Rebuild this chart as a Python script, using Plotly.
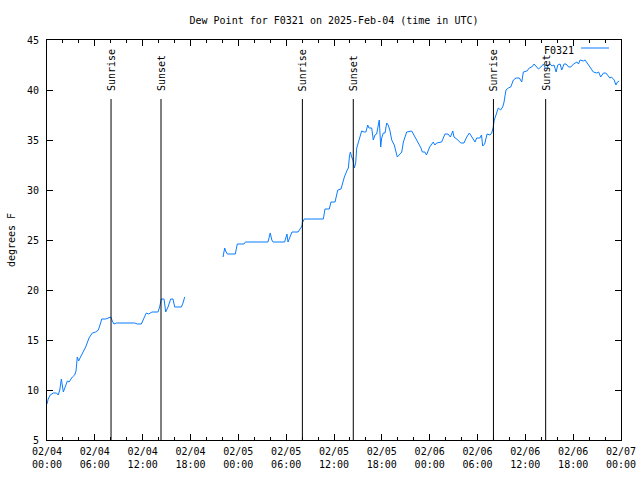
import pandas as pd
import plotly.graph_objects as go

# ---- data (hours after 2025-02-04 00:00 UTC, dew point in F) ----
hours = [0.0, 0.15, 0.4, 0.8, 1.2, 1.4, 1.6, 1.8, 2.05, 2.26, 2.55, 2.76, 3.18, 3.47, 3.64, 3.8, 3.97,
         4.14, 4.43, 4.85, 5.27, 5.68, 6.1, 6.44, 6.73, 6.86, 7.36, 7.78, 7.99, 8.2, 8.4, 8.7, 11.0,
         11.33, 11.83, 12.17, 12.46, 12.75, 13.17, 13.92, 14.13, 14.34, 14.68, 14.89, 15.18, 15.52,
         15.8, 16.02, 16.85, 17.06, 17.27,
         19.5,
         22.08, 22.29, 22.41, 22.62, 23.62, 23.87, 24.7, 24.88, 27.72, 28.0, 28.2, 28.35, 29.81, 30.0,
         30.1, 30.23, 30.44, 30.73, 31.49, 31.7, 31.99, 32.03, 32.27, 34.66, 34.87, 35.41, 35.62,
         36.13, 36.34, 36.47, 36.88, 37.05, 37.3, 37.6, 37.8, 37.93, 38.05, 38.22, 38.38, 38.55,
         38.72, 38.85, 39.05, 39.26, 39.47, 39.8, 40.0, 40.23, 40.39, 40.73, 40.93, 41.14, 41.35,
         41.56, 41.68, 41.86, 41.98, 42.19, 42.4, 42.61, 42.8, 43.0, 43.24, 43.56, 43.74, 43.94,
         44.28, 44.5, 44.7, 44.9, 45.12, 45.75, 46.16, 46.58, 46.91, 47.08, 47.4, 47.6, 48.0, 48.45,
         48.65, 48.87, 49.5, 49.92, 50.3, 50.6, 50.9, 51.05, 51.4, 51.9, 52.3, 52.65, 52.98, 53.3,
         53.69, 53.9, 54.3, 54.5, 54.65, 54.9, 55.2, 55.57, 55.78, 55.98, 56.1, 56.32, 56.6, 56.9,
         57.16, 57.33, 57.57, 57.87, 58.17, 58.5, 58.83, 59.25, 59.55, 59.75, 60.2, 60.5, 60.8, 61.1,
         61.35, 61.64, 61.95, 62.28, 62.57, 62.83, 63.12, 63.33, 63.6, 63.86, 64.07, 64.36, 64.57,
         64.86, 65.1, 65.43, 65.7, 66.04, 66.47, 66.67, 66.86, 67.28, 67.49, 67.78, 68.1, 68.53,
         68.95, 69.2, 69.45, 69.8, 70.1, 70.4, 70.6, 70.8, 71.15, 71.36, 71.56, 71.77]
dewpoint = [8.6, 9.1, 9.5, 9.7, 9.7, 9.5, 10.0, 11.1, 9.8, 10.3, 10.9, 10.8, 11.3, 11.5, 11.9, 13.3, 12.9,
            13.2, 13.7, 14.3, 15.2, 15.7, 15.8, 16.0, 16.7, 17.1, 17.1, 17.2, 17.3, 16.9, 16.6, 16.7, 16.7,
            16.6, 16.6, 17.2, 17.7, 17.6, 17.8, 17.8, 18.3, 19.1, 19.1, 17.8, 18.3, 19.1,
            19.1, 18.3, 18.3, 18.7, 19.3,
            None,
            23.3, 24.2, 23.9, 23.6, 23.6, 24.6, 24.6, 24.8, 24.8, 25.7, 25.0, 24.8, 24.8, 25.2,
            25.6, 24.8, 25.3, 25.8, 25.8, 26.1, 26.4, 26.7, 27.1, 27.1, 28.1, 28.1, 28.8,
            28.8, 29.4, 30.0, 30.1, 30.7, 31.3, 31.9, 32.2, 33.3, 33.8, 33.3, 33.0, 32.2,
            32.7, 34.2, 34.8, 35.3, 35.9, 35.8, 35.8, 36.5, 36.2, 36.2, 35.0, 35.5, 35.6,
            36.5, 37.0, 34.3, 35.2, 35.7, 35.7, 36.7, 36.5, 36.0, 35.0, 34.5, 33.8, 33.3,
            33.6, 33.8, 34.8, 35.3, 35.8, 35.9, 35.3, 34.7, 34.2, 33.8, 33.8, 33.5, 34.3, 34.8,
            34.5, 34.7, 34.8, 35.6, 35.6, 35.3, 35.9, 35.3, 35.1, 34.7, 34.7, 35.3, 35.7, 35.3,
            34.8, 35.2, 35.2, 35.5, 34.4, 34.6, 35.6, 35.5, 35.7, 36.3, 37.0, 37.5, 38.2, 38.0,
            38.3, 38.8, 40.0, 40.2, 40.3, 41.0, 41.2, 41.2, 40.8, 41.8, 41.9, 42.2, 42.3, 42.6,
            42.4, 42.1, 42.3, 42.6, 42.1, 42.4, 42.6, 42.4, 42.5, 41.8, 42.5, 42.6, 42.0,
            42.6, 42.6, 42.3, 42.3, 42.6, 42.8, 42.6, 43.0, 42.9, 43.0, 42.6, 42.3, 41.8,
            41.7, 41.8, 41.3, 41.7, 41.7, 41.4, 41.2, 41.3, 41.0, 40.5, 40.8, 40.9]

sun_events = ["Sunrise", "Sunset", "Sunrise", "Sunset", "Sunrise", "Sunset"]
sun_times = ["2025-02-04 08:02", "2025-02-04 14:18", "2025-02-05 08:02", "2025-02-05 14:25",
             "2025-02-06 08:00", "2025-02-06 14:33"]

series_name = "F0321"
title_text = "Dew Point for F0321 on 2025-Feb-04 (time in UTC)"
y_title = "degrees F"
x_start, x_end = "2025-02-04 00:00", "2025-02-07 00:00"
y_min, y_max = 5, 45
sun_line_top = 39.1
sun_label_y = 39.7

t0 = pd.Timestamp(x_start)
times = [t0 + pd.Timedelta(hours=h) for h in hours]

FONT = "DejaVu Sans Mono"
LINE_COLOR = "#0a7cff"

fig = go.Figure()
fig.add_trace(go.Scatter(x=times, y=dewpoint, mode="lines", name=series_name,
                         line=dict(color=LINE_COLOR, width=1), connectgaps=False,
                         showlegend=False))

for ev, t in zip(sun_events, sun_times):
    fig.add_shape(type="line", xref="x", yref="y", x0=t, x1=t, y0=y_min, y1=sun_line_top,
                  line=dict(color="black", width=1))
    fig.add_annotation(x=t, y=sun_label_y, xref="x", yref="y", text=ev, textangle=-90,
                       showarrow=False, xanchor="center", yanchor="bottom",
                       font=dict(family=FONT, size=10, color="black"))

# legend drawn gnuplot-style (text then sample line)
fig.add_annotation(x=(576 - 47) / 574, y=1 - (50 - 40) / 400, xref="paper", yref="paper",
                   text=series_name, showarrow=False,
                   xanchor="right", yanchor="middle", font=dict(family=FONT, size=10, color="black"))
fig.add_shape(type="line", xref="paper", yref="paper",
              x0=(581 - 47) / 574, x1=(609 - 47) / 574, y0=1 - (48 - 40) / 400, y1=1 - (48 - 40) / 400,
              line=dict(color=LINE_COLOR, width=1))

fig.update_layout(
    width=640, height=480,
    margin=dict(l=47, r=19, t=40, b=40),
    paper_bgcolor="white", plot_bgcolor="white",
    font=dict(family=FONT, size=10, color="black"),
    title=dict(text=title_text, x=(334) / 640, xanchor="center", y=1 - 20 / 480, yanchor="middle",
               font=dict(family=FONT, size=10, color="black")),
    showlegend=False,
)
fig.update_xaxes(
    range=[x_start, x_end], type="date", automargin=False,
    dtick=6 * 3600 * 1000, tick0=x_start, tickformat="%m/%d<br>%H:%M",
    showgrid=False, zeroline=False,
    showline=True, linecolor="black", linewidth=1, mirror="ticks",
    ticks="inside", ticklen=6, tickcolor="black", tickwidth=1,
    minor=dict(dtick=2 * 3600 * 1000, ticks="inside", ticklen=3, tickcolor="black", showgrid=False),
    ticklabelstandoff=2,
    tickfont=dict(family=FONT, size=10, color="black"),
)
fig.update_yaxes(
    range=[y_min, y_max], dtick=5, tick0=0, automargin=False,
    showgrid=False, zeroline=False,
    showline=True, linecolor="black", linewidth=1, mirror="ticks",
    ticks="inside", ticklen=6, tickcolor="black", tickwidth=1,
    ticklabelstandoff=5,
    tickfont=dict(family=FONT, size=10, color="black"),
    title=dict(text=y_title, standoff=9, font=dict(family=FONT, size=10, color="black")),
)

fig.write_html("out.html")
